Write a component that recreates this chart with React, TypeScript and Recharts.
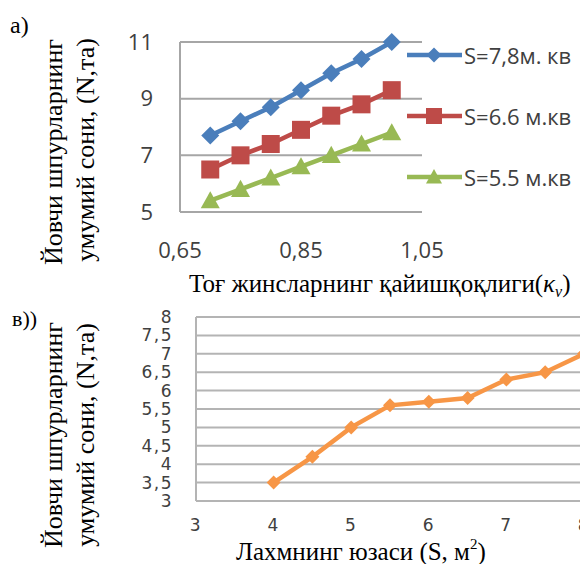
import React from 'react';
import { LineChart, Line, XAxis, YAxis, CartesianGrid, Legend } from 'recharts';

// ---- Chart (a) data ----
const kvValues = [0.7, 0.75, 0.8, 0.85, 0.9, 0.95, 1.0];
const seriesS78 = [7.7, 8.2, 8.7, 9.3, 9.9, 10.4, 11];
const seriesS66 = [6.5, 7.0, 7.4, 7.9, 8.4, 8.8, 9.3];
const seriesS55 = [5.4, 5.8, 6.2, 6.6, 7.0, 7.4, 7.8];
const seriesNames = ['S=7,8м. кв', 'S=6.6 м.кв', 'S=5.5 м.кв'];
const topXTicks = [0.65, 0.85, 1.05];
const topYTicks = [5, 7, 9, 11];

// ---- Chart (в) data ----
const areaValues = [4, 4.5, 5, 5.5, 6, 6.5, 7, 7.5, 8];
const holeCounts = [3.5, 4.2, 5.0, 5.6, 5.7, 5.8, 6.3, 6.5, 7.0];
const bottomXTicks = [3, 4, 5, 6, 7, 8];
const bottomYTicks = [3, 3.5, 4, 4.5, 5, 5.5, 6, 6.5, 7, 7.5, 8];

const COLORS = ['#4A7EBB', '#BE4B48', '#98B954'];
const ORANGE = '#F79646';
const GRID = '#A6A6A6';
const SERIF = '"Liberation Serif", "Times New Roman", serif';

const topData = kvValues.map((k, i) => ({ k, a: seriesS78[i], b: seriesS66[i], c: seriesS55[i] }));
const bottomData = areaValues.map((s, i) => ({ s, n: holeCounts[i] }));

const fmt = (v: number) => String(v).replace('.', ',');

const Diamond = ({ cx, cy, r, fill }: any) => (
  <polygon points={`${cx},${cy - r} ${cx + r},${cy} ${cx},${cy + r} ${cx - r},${cy}`} fill={fill} />
);
const Square = ({ cx, cy, r, fill }: any) => (
  <rect x={cx - r} y={cy - r} width={2 * r} height={2 * r} fill={fill} />
);
const Triangle = ({ cx, cy, r, fill }: any) => (
  <polygon points={`${cx},${cy - r} ${cx + r},${cy + r * 0.8} ${cx - r},${cy + r * 0.8}`} fill={fill} />
);

const shapes = [Diamond, Square, Triangle];
const shapeR = [9, 9, 9.5];

const renderLegend = () => (
  <div style={{ position: 'relative', width: 180, height: 160 }}>
    {seriesNames.map((name, i) => {
      const Shape = shapes[i];
      const top = [15, 76, 137][i];
      return (
        <div key={name} style={{ position: 'absolute', left: 0, top: top - 14, height: 28, display: 'flex', alignItems: 'center', whiteSpace: 'nowrap' }}>
          <svg width={58} height={28} style={{ display: 'block' }}>
            <line x1={2} y1={14} x2={57} y2={14} stroke={COLORS[i]} strokeWidth={4.5} />
            <Shape cx={29} cy={14} r={i === 0 ? 7.5 : 8} fill={COLORS[i]} />
          </svg>
          <span style={{ fontFamily: '"Open Sans", sans-serif', fontSize: 22, color: '#404040', marginLeft: 1, lineHeight: '28px' }}>{name}</span>
        </div>
      );
    })}
  </div>
);

const makeDot = (i: number) => (p: any) => {
  const Shape = shapes[i];
  return <Shape key={`d${i}-${p.index}`} cx={p.cx} cy={p.cy} r={shapeR[i]} fill={COLORS[i]} />;
};

const orangeDot = (p: any) => <Diamond key={`o-${p.index}`} cx={p.cx} cy={p.cy} r={7} fill={ORANGE} />;

export default function App() {
  const topTick = { fill: '#404040', fontSize: 22, fontFamily: '"Open Sans", sans-serif' };
  const botTick = { fill: '#404040', fontSize: 17, fontFamily: '"DejaVu Sans", sans-serif', letterSpacing: 1.5 };
  return (
    <div style={{ position: 'fixed', left: 0, top: 0, width: 580, height: 564, overflow: 'hidden', background: '#fff' }}>
      <div style={{ position: 'absolute', left: 0, top: 0 }}>
        <LineChart width={580} height={300} data={topData} margin={{ top: 42, right: 158, bottom: 58, left: 0 }}>
          <CartesianGrid vertical={false} stroke={GRID} strokeWidth={2} />
          <XAxis
            type="number"
            dataKey="k"
            domain={[0.65, 1.05]}
            ticks={topXTicks}
            tickFormatter={fmt}
            axisLine={false}
            tickLine={false}
            tickSize={0}
            tickMargin={30}
            height={30}
            tick={topTick}
            interval={0}
          />
          <YAxis
            type="number"
            domain={[5, 11]}
            ticks={topYTicks}
            tickFormatter={fmt}
            axisLine={{ stroke: GRID, strokeWidth: 2 }}
            tickLine={false}
            tickSize={0}
            tickMargin={27}
            width={180}
            tick={topTick}
            interval={0}
          />
          <Legend layout="vertical" align="center" verticalAlign="middle" content={renderLegend} wrapperStyle={{ left: 405, top: 40, width: 180, height: 160 }} />
          <Line dataKey="a" name={seriesNames[0]} stroke={COLORS[0]} strokeWidth={4.5} dot={makeDot(0)} activeDot={false} isAnimationActive={false} />
          <Line dataKey="b" name={seriesNames[1]} stroke={COLORS[1]} strokeWidth={4.5} dot={makeDot(1)} activeDot={false} isAnimationActive={false} />
          <Line dataKey="c" name={seriesNames[2]} stroke={COLORS[2]} strokeWidth={4.5} dot={makeDot(2)} activeDot={false} isAnimationActive={false} />
        </LineChart>
      </div>
      <div style={{ position: 'absolute', left: 0, top: 290 }}>
        <LineChart width={600} height={274} data={bottomData} margin={{ top: 27, right: 16, bottom: 33, left: 0 }}>
          <CartesianGrid vertical={false} stroke="#B4B4B4" strokeWidth={2} />
          <XAxis
            type="number"
            dataKey="s"
            domain={[3, 8]}
            ticks={bottomXTicks}
            axisLine={false}
            tickLine={false}
            tickSize={0}
            tickMargin={18}
            height={30}
            tick={botTick}
            interval={0}
          />
          <YAxis
            type="number"
            domain={[3, 8]}
            ticks={bottomYTicks}
            tickFormatter={fmt}
            axisLine={{ stroke: '#B4B4B4', strokeWidth: 2 }}
            tickLine={false}
            tickSize={0}
            tickMargin={23}
            width={196}
            tick={botTick}
            interval={0}
          />
          <Line dataKey="n" stroke={ORANGE} strokeWidth={4.5} dot={orangeDot} activeDot={false} isAnimationActive={false} />
        </LineChart>
      </div>
      <svg width={580} height={564} style={{ position: 'absolute', left: 0, top: 0, pointerEvents: 'none' }} fontFamily={SERIF} fill="#000">
        <text x={10} y={33} fontSize={24}>а)</text>
        <text transform="translate(62,152) rotate(-90)" textAnchor="middle" fontSize={26}>Йовчи шпурларнинг</text>
        <text transform="translate(94,150) rotate(-90)" textAnchor="middle" fontSize={26}>умумий сони, (N,та)</text>
        <text x={189} y={292} fontSize={25}>
          Тоғ жинсларнинг қайишқоқлиги(<tspan fontStyle="italic">κ</tspan>
          <tspan fontStyle="italic" fontSize={16} dy={5}>v</tspan>
          <tspan dy={-5}>)</tspan>
        </text>
        <text x={12} y={326} fontSize={22}>в))</text>
        <text transform="translate(62,435) rotate(-90)" textAnchor="middle" fontSize={26}>Йовчи шпурларнинг</text>
        <text transform="translate(94,435) rotate(-90)" textAnchor="middle" fontSize={26}>умумий сони, (N,та)</text>
        <text x={236} y={560} fontSize={25}>
          Лахмнинг юзаси (S, м<tspan fontSize={15} dy={-11}>2</tspan>
          <tspan dy={11}>)</tspan>
        </text>
      </svg>
    </div>
  );
}
